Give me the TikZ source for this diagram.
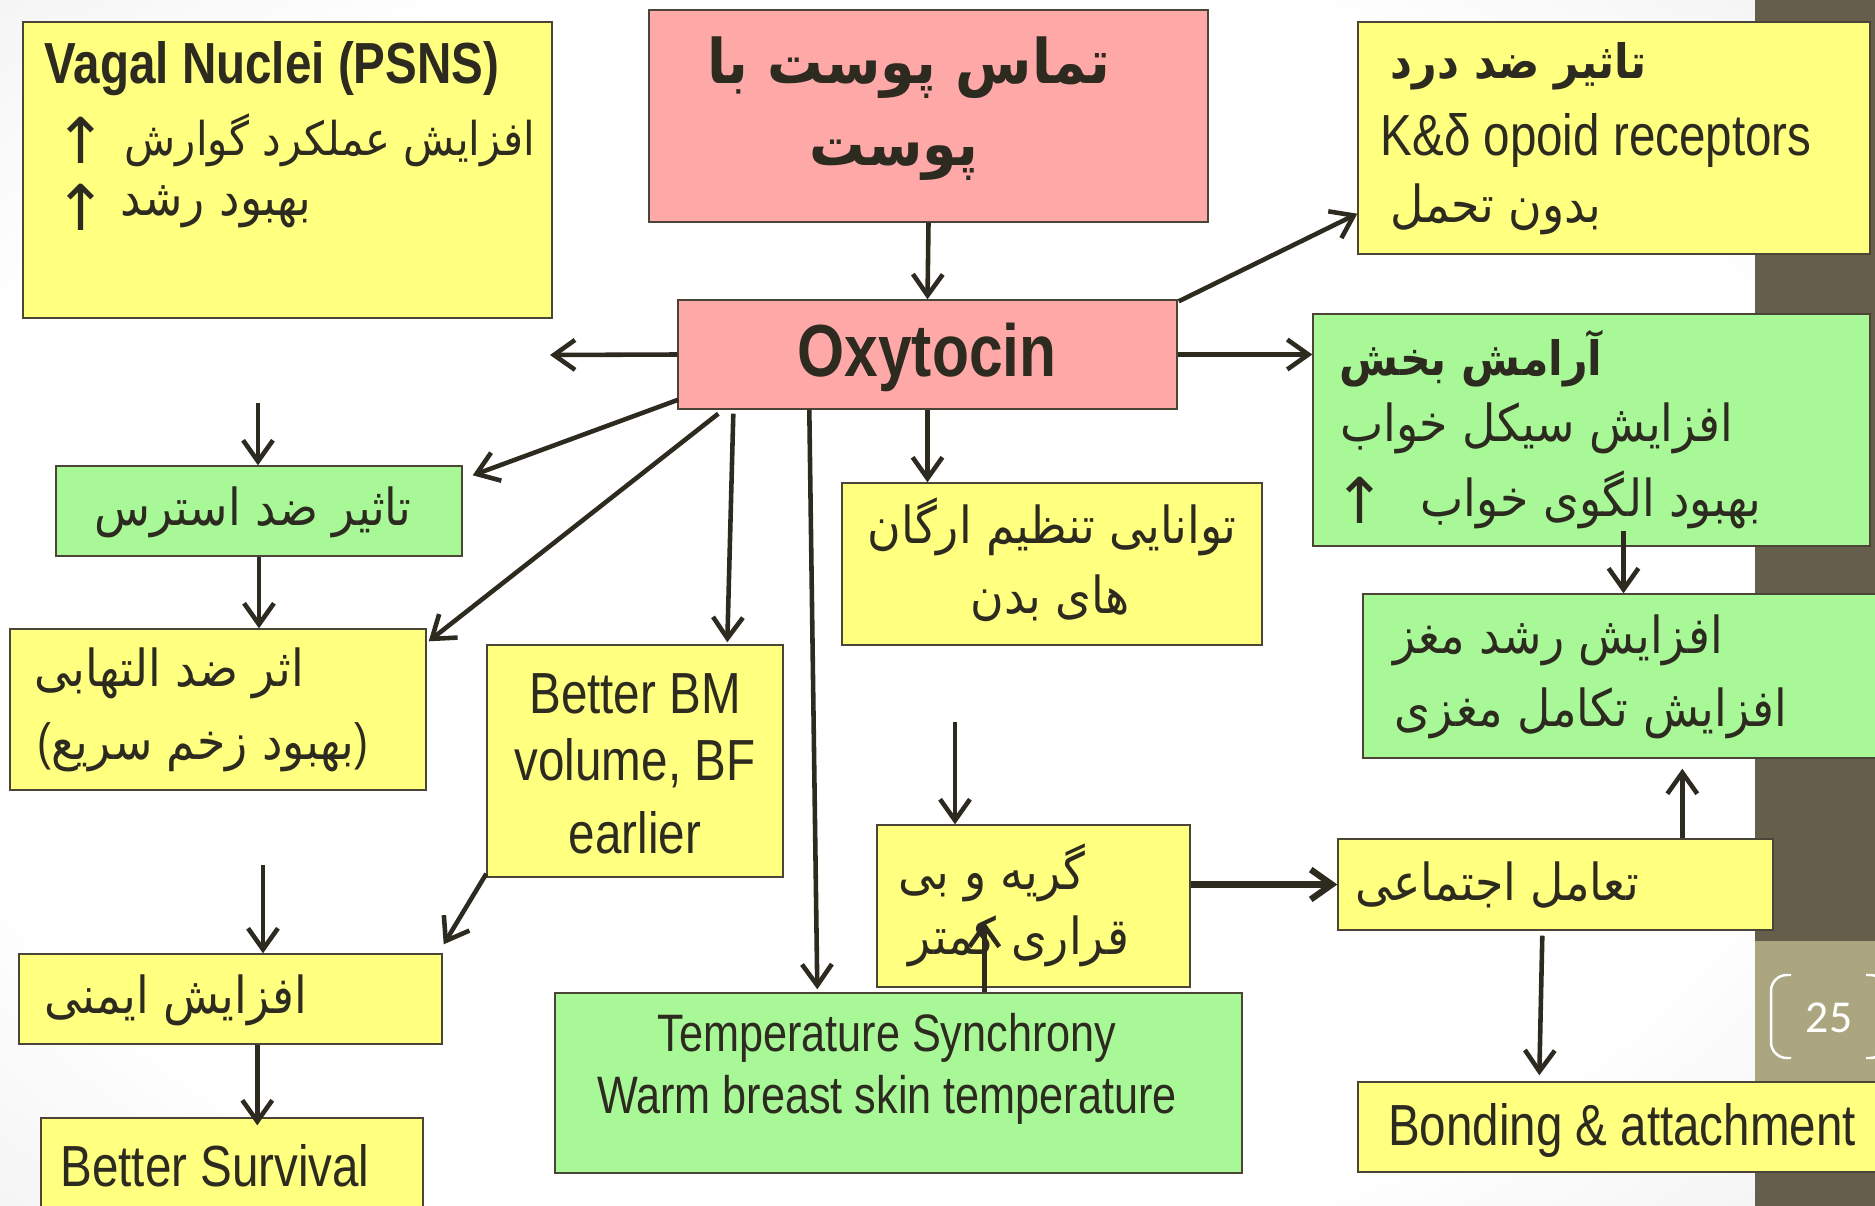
\documentclass[tikz,border=0pt]{standalone}
\usepackage{fontspec}
\usepackage{xcolor}
\usetikzlibrary{arrows.meta,calc,fit}
\setmainfont{Liberation Sans}[FakeStretch=0.82]
\newfontfamily\fafont[Script=Arabic,FakeStretch=0.9]{DejaVu Sans}
\newfontfamily\arrowfont{DejaVu Sans}
\newfontfamily\numfont{Carlito}
\TeXXeTstate=1
\definecolor{yel}{RGB}{255,255,128}
\definecolor{grn}{RGB}{168,248,152}
\definecolor{pnk}{RGB}{255,168,168}
\definecolor{ink}{RGB}{45,42,32}
\definecolor{boxline}{RGB}{74,69,54}
\definecolor{band}{RGB}{101,94,75}
\definecolor{khaki}{RGB}{171,166,127}
\pgfdeclareradialshading{slidebg}{\pgfpoint{0bp}{0bp}}{color(0bp)=(white); color(27bp)=(white); color(50bp)=(black!11)}
\tikzset{
  box/.style={draw=boxline, line width=0.8pt, inner sep=0pt},
  yel/.style={box, fill=yel},
  grn/.style={box, fill=grn},
  pnk/.style={box, fill=pnk},
  txt/.style={inner sep=0pt, text=ink, font=\fontsize{33}{40}\selectfont},
  ptxt/.style={inner sep=0pt, text=ink, font=\fontsize{29}{36}\selectfont\fafont},
  phead/.style={ptxt, font=\fontsize{27}{34}\selectfont\fafont\bfseries},
  uparr/.style={inner sep=0pt, text=ink, font=\fontsize{36}{40}\selectfont\arrowfont},
  arr/.style={draw=ink, line width=2.6pt, -{Straight Barb[length=12pt,width=17pt]}},
}
\begin{document}
\begin{tikzpicture}[x=0.02cm, y=-0.02cm]
  \useasboundingbox (0,0) rectangle (1875,1206);
  % slide background
  \shade[shading=slidebg] (0,0) rectangle (1755,1206);
  \fill[band] (1755,0) rectangle (1875,1206);
  \fill[khaki] (1755,941) rectangle (1875,1100);
  \draw[white, line width=1.4pt, rounded corners=9pt] (1791,975) -- (1771,975) -- (1771,1058) -- (1791,1058);
  \draw[white, line width=1.4pt, rounded corners=9pt] (1866,975) -- (1886,975) -- (1886,1058) -- (1866,1058);
  \node[text=white, font=\fontsize{26}{30}\selectfont\numfont] (pageno) at (1829,1018) {25};

  % boxes
  \node[yel, fit={(23,22)(552,318)}] (vagal) {};
  \node[pnk, fit={(649,10)(1208,222)}] (skin) {};
  \node[pnk, fit={(678,300)(1177,409)}] (oxy) {};
  \node[yel, fit={(1358,22)(1870,254)}] (pain) {};
  \node[grn, fit={(1313,314)(1870,546)}] (calm) {};
  \node[grn, fit={(1363,594)(1880,758)}] (brain) {};
  \node[yel, fit={(842,483)(1262,645)}] (organs) {};
  \node[grn, fit={(56,466)(462,556)}] (stress) {};
  \node[yel, fit={(10,629)(426,790)}] (inflam) {};
  \node[yel, fit={(487,645)(783,877)}] (bm) {};
  \node[yel, fit={(877,825)(1190,987)}] (cry) {};
  \node[yel, fit={(1338,839)(1773,930)}] (social) {};
  \node[yel, fit={(19,954)(442,1044)}] (immun) {};
  \node[yel, fit={(41,1118)(423,1230)}] (surv) {};
  \node[grn, fit={(555,993)(1242,1173)}] (temp) {};
  \node[yel, fit={(1358,1082)(1880,1172)}] (bond) {};

  % texts
  \node[txt, font=\fontsize{33}{40}\selectfont\bfseries] (vagalA) at (272,69) {Vagal Nuclei (PSNS)};
  \node[uparr] (vagalUp1) at (81,140) {↑};
  \node[ptxt, font=\fontsize{26.5}{34}\selectfont\fafont] (vagalB) at (330,140) {\beginR افزایش عملکرد گوارش\endR};
  \node[uparr] (vagalUp2) at (81,207) {↑};
  \node[ptxt] (vagalC) at (216,207) {\beginR بهبود رشد\endR};

  \node[phead, font=\fontsize{35}{42}\selectfont\fafont\bfseries] (skinA) at (909,68) {\beginR تماس پوست با\endR};
  \node[phead, font=\fontsize{35}{42}\selectfont\fafont\bfseries] (skinB) at (894,160) {\beginR پوست\endR};
  \node[txt, font=\fontsize{42}{50}\selectfont\bfseries] (oxyA) at (927,357) {Oxytocin};

  \node[phead] (painA) at (1519,66) {\beginR تاثیر ضد درد\endR};
  \node[txt] (painB) at (1596,141) {K\&δ opoid receptors};
  \node[ptxt] (painC) at (1496,209) {\beginR بدون تحمل\endR};

  \node[phead] (calmA) at (1471,359) {\beginR آرامش بخش\endR};
  \node[ptxt] (calmB) at (1537,428) {\beginR افزایش سیکل خواب\endR};
  \node[uparr] (calmUp) at (1360,500) {↑};
  \node[ptxt] (calmC) at (1591,500) {\beginR بهبود الگوی خواب\endR};

  \node[ptxt] (brainA) at (1558,640) {\beginR افزایش رشد مغز\endR};
  \node[ptxt] (brainB) at (1591,713) {\beginR افزایش تکامل مغزی\endR};

  \node[ptxt] (organsA) at (1052,527) {\beginR توانایی تنظیم ارگان\endR};
  \node[ptxt] (organsB) at (1050,598) {\beginR های بدن\endR};

  \node[ptxt] (stressA) at (253,512) {\beginR تاثیر ضد استرس\endR};
  \node[ptxt] (inflamA) at (169,673) {\beginR اثر ضد التهابی\endR};
  \node[ptxt] (inflamB) at (203,747) {{\rmfamily(}\beginR بهبود زخم سریع\endR{\rmfamily)}};

  \node[txt] (bmA) at (635,694) {Better BM};
  \node[txt] (bmB) at (635,763) {volume, BF};
  \node[txt] (bmC) at (635,833) {earlier};

  \node[ptxt] (cryA) at (992,873) {\beginR گریه و بی\endR};
  \node[ptxt] (cryB) at (1019,941) {\beginR قراری کمتر\endR};
  \node[ptxt] (socialA) at (1497,885) {\beginR تعامل اجتماعی\endR};
  \node[ptxt] (immunA) at (176,1000) {\beginR افزایش ایمنی\endR};
  \node[txt] (survA) at (215,1166) {Better Survival};
  \node[txt, font=\fontsize{30}{36}\selectfont] (tempA) at (887,1038) {Temperature Synchrony};
  \node[txt, font=\fontsize{30}{36}\selectfont] (tempB) at (887,1100) {Warm breast skin temperature};
  \node[txt] (bondA) at (1622,1130) {Bonding \& attachment};

  % connectors
  \coordinate (lft) at (550,355);
  \coordinate (c1) at (258,403);
  \coordinate (c2) at (955,722);
  \coordinate (c3) at (263,865);
  \draw[arr] (skin.south) -- (oxy.north);
  \draw[arr] (oxy.west) -- (lft);
  \draw[arr] (c1) -- (c1 |- stress.north);
  \draw[arr] ($(oxy.south west)+(1,-10)$) -- ($(stress.north east)+(10,10)$);
  \draw[arr] (stress.south) -- (stress.south |- inflam.north);
  \draw[arr] ($(oxy.south west)+(41,4)$) -- ($(inflam.north east)+(2,13)$);
  \draw[arr] ($(oxy.south west)+(56,4)$) -- ($(bm.north west)+(241,-2)$);
  \draw[arr] ($(oxy.south west)+(132,0)$) -- ($(temp.north west)+(263,-3)$);
  \draw[arr] (oxy.south) -- (oxy.south |- organs.north);
  \draw[arr] ($(oxy.north east)+(1,2)$) -- ($(pain.south west)+(0,-41)$);
  \draw[arr] (oxy.east) -- (oxy.east -| calm.west);
  \draw[arr] ($(brain.north |- calm.south)+(2,-16)$) -- ($(brain.north)+(2,0)$);
  \draw[arr] (c2) -- (c2 |- cry.north);
  \draw[arr, line width=3.6pt] (cry.east |- social.west) -- (social.west);
  \draw[arr] ($(social.north west)+(345,0)$) coordinate (s3) -- ($(s3 |- brain.south)+(0,10)$);
  \draw[arr] ($(social.south west)+(205,5)$) -- ($(bond.north west)+(182,-6)$);
  \draw[arr] ($(temp.north west)+(430,0)$) coordinate (t3) -- ($(t3 |- cry.south)+(0,-66)$);
  \draw[arr] ($(bm.south west)+(0,-4)$) -- ($(immun.north east)+(1,-9)$);
  \draw[arr] (c3) -- (c3 |- immun.north);
  \draw[arr] ($(immun.south west)+(239,0)$) coordinate (i3) -- ($(i3 |- surv.north)+(0,8)$);
\end{tikzpicture}
\end{document}
